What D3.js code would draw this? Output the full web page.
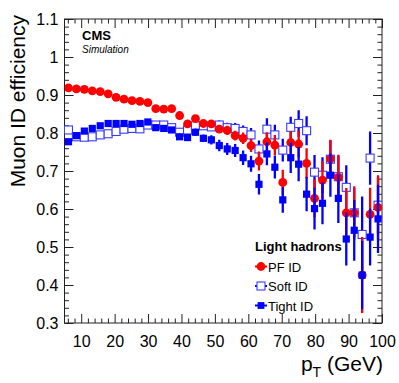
<!DOCTYPE html>
<html>
<head>
<meta charset="utf-8">
<script src="https://cdn.jsdelivr.net/npm/d3@7"></script>
<style>
  body { margin: 0; background: white; }
  text { font-family: "Liberation Sans", Arial, Helvetica, sans-serif; }
</style>
</head>
<body>
<div id="chart"></div>
<script>
// bin centres (GeV), 40 bins between 5 and 100
const ptBins = [6.19, 8.56, 10.94, 13.31, 15.69, 18.06, 20.44, 22.81, 25.19, 27.56,
    29.94, 32.31, 34.69, 37.06, 39.44, 41.81, 44.19, 46.56, 48.94, 51.31,
    53.69, 56.06, 58.44, 60.81, 63.19, 65.56, 67.94, 70.31, 72.69, 75.06,
    77.44, 79.81, 82.19, 84.56, 86.94, 89.31, 91.69, 94.06, 96.44, 98.81];

const pfEff = [0.919, 0.916, 0.915, 0.911, 0.909, 0.903, 0.894, 0.889, 0.885, 0.883,
    0.880, 0.864, 0.863, 0.864, 0.846, 0.824, 0.838, 0.825, 0.824, 0.810,
    0.807, 0.793, 0.786, 0.767, 0.726, 0.777, 0.768, 0.670, 0.775, 0.771,
    0.720, 0.628, 0.676, 0.732, 0.683, 0.590, 0.590, 0.426, 0.586, 0.604];
const pfErr = [0.003, 0.003, 0.003, 0.003, 0.003, 0.003, 0.003, 0.003, 0.003, 0.003,
    0.003, 0.004, 0.004, 0.004, 0.006, 0.006, 0.007, 0.008, 0.009, 0.010,
    0.012, 0.013, 0.015, 0.017, 0.025, 0.025, 0.027, 0.033, 0.030, 0.035,
    0.040, 0.050, 0.050, 0.050, 0.060, 0.065, 0.070, 0.100, 0.070, 0.085];

const softEff = [0.808, 0.790, 0.789, 0.790, 0.795, 0.798, 0.804, 0.810, 0.812, 0.811,
    0.821, 0.821, 0.821, 0.814, 0.802, 0.808, 0.819, 0.819, 0.816, 0.821,
    0.814, 0.812, 0.804, 0.795, 0.758, 0.810, 0.795, 0.755, 0.815, 0.825,
    0.806, 0.697, 0.689, 0.731, 0.685, 0.657, 0.590, 0.533, 0.734, 0.610];
const softErr = [0.004, 0.004, 0.004, 0.004, 0.004, 0.004, 0.004, 0.004, 0.004, 0.004,
    0.004, 0.005, 0.005, 0.006, 0.007, 0.008, 0.009, 0.010, 0.011, 0.012,
    0.013, 0.014, 0.016, 0.018, 0.022, 0.029, 0.027, 0.030, 0.028, 0.035,
    0.038, 0.045, 0.047, 0.050, 0.055, 0.058, 0.065, 0.100, 0.070, 0.075];

const tightEff = [0.777, 0.793, 0.805, 0.812, 0.819, 0.825, 0.825, 0.825, 0.823, 0.825,
    0.829, 0.814, 0.812, 0.808, 0.790, 0.788, 0.802, 0.786, 0.782, 0.767,
    0.758, 0.754, 0.735, 0.719, 0.665, 0.745, 0.710, 0.624, 0.735, 0.718,
    0.639, 0.601, 0.615, 0.689, 0.628, 0.521, 0.544, 0.426, 0.526, 0.574];
const tightErr = [0.004, 0.004, 0.004, 0.004, 0.004, 0.004, 0.004, 0.004, 0.004, 0.004,
    0.004, 0.005, 0.005, 0.006, 0.008, 0.008, 0.010, 0.010, 0.012, 0.015,
    0.016, 0.017, 0.019, 0.021, 0.027, 0.030, 0.030, 0.034, 0.040, 0.045,
    0.045, 0.055, 0.055, 0.057, 0.065, 0.070, 0.080, 0.090, 0.075, 0.090];

const xTicks = [10, 20, 30, 40, 50, 60, 70, 80, 90, 100];
const xMinorTicks = d3.range(6, 100, 2).filter(v => v % 10 !== 0);
const yTicks = [0.3, 0.4, 0.5, 0.6, 0.7, 0.8, 0.9, 1, 1.1];
const yMinorTicks = d3.range(0.32, 1.1, 0.02).filter(v => Math.abs(v * 10 - Math.round(v * 10)) > 0.01);

const legendLabels = ["PF ID", "Soft ID", "Tight ID"];

const width = 399, height = 383;
const plotLeft = 64.5, plotRight = 382, plotTop = 19, plotBottom = 323;

const svg = d3.select("#chart").append("svg")
    .attr("width", width)
    .attr("height", height);

const x = d3.scaleLinear().domain([5, 100]).range([plotLeft, plotRight]);
const y = d3.scaleLinear().domain([0.3, 1.1]).range([plotBottom, plotTop]);

// frame
svg.append("rect")
    .attr("x", plotLeft).attr("y", plotTop)
    .attr("width", plotRight - plotLeft).attr("height", plotBottom - plotTop)
    .attr("fill", "none").attr("stroke", "#222").attr("stroke-width", 1);

const styleAxis = (g) => {
    g.select(".domain").remove();
    g.selectAll("line").attr("stroke", "#222");
};

// bottom axis with labels
const xAxis = svg.append("g")
    .attr("transform", `translate(0,${plotBottom})`)
    .call(d3.axisBottom(x).tickValues(xTicks).tickSize(-9).tickSizeOuter(0));
styleAxis(xAxis);
xAxis.selectAll("text")
    .style("font-size", "16px").attr("fill", "#000")
    .attr("y", 13).attr("dy", "0.71em");

svg.append("g").attr("transform", `translate(0,${plotBottom})`)
    .call(d3.axisBottom(x).tickValues(xMinorTicks).tickSize(-4.5).tickFormat(""))
    .call(styleAxis);

// top axis
svg.append("g").attr("transform", `translate(0,${plotTop})`)
    .call(d3.axisTop(x).tickValues(xTicks).tickSize(-9).tickFormat(""))
    .call(styleAxis);
svg.append("g").attr("transform", `translate(0,${plotTop})`)
    .call(d3.axisTop(x).tickValues(xMinorTicks).tickSize(-4.5).tickFormat(""))
    .call(styleAxis);

// left axis with labels
const yAxis = svg.append("g")
    .attr("transform", `translate(${plotLeft},0)`)
    .call(d3.axisLeft(y).tickValues(yTicks).tickSize(-9).tickFormat(d => d3.format("")(d)));
styleAxis(yAxis);
yAxis.selectAll("text").style("font-size", "16px").attr("fill", "#000").attr("x", -6);

svg.append("g").attr("transform", `translate(${plotLeft},0)`)
    .call(d3.axisLeft(y).tickValues(yMinorTicks).tickSize(-4.5).tickFormat(""))
    .call(styleAxis);

// right axis
svg.append("g").attr("transform", `translate(${plotRight},0)`)
    .call(d3.axisRight(y).tickValues(yTicks).tickSize(-9).tickFormat(""))
    .call(styleAxis);
svg.append("g").attr("transform", `translate(${plotRight},0)`)
    .call(d3.axisRight(y).tickValues(yMinorTicks).tickSize(-4.5).tickFormat(""))
    .call(styleAxis);

// axis titles
svg.append("text")
    .attr("transform", `translate(25,${plotTop - 4}) rotate(-90)`)
    .attr("text-anchor", "end")
    .style("font-size", "21px")
    .text("Muon ID efficiency");

const xTitle = svg.append("text")
    .attr("x", plotRight + 1)
    .attr("y", 371)
    .attr("text-anchor", "end")
    .style("font-size", "21px");
xTitle.append("tspan").text("p");
xTitle.append("tspan").attr("dy", 6).style("font-size", "14px").text("T");
xTitle.append("tspan").attr("dy", -6).text(" (GeV)");

// CMS label
svg.append("text")
    .attr("x", 82).attr("y", 40)
    .style("font-size", "13px").style("font-weight", "bold")
    .text("CMS");
svg.append("text")
    .attr("x", 82).attr("y", 53)
    .style("font-size", "10px").style("font-style", "italic")
    .text("Simulation");

// data
svg.append("defs").append("clipPath").attr("id", "plotclip")
    .append("rect").attr("x", plotLeft).attr("y", plotTop)
    .attr("width", plotRight - plotLeft).attr("height", plotBottom - plotTop);

const plot = svg.append("g").attr("clip-path", "url(#plotclip)");

const makePoints = (vals, errs) => ptBins.map((pt, i) => ({ pt, v: vals[i], e: errs[i] }));

const drawErrors = (pts, colour, w) => {
    plot.append("g").selectAll("line")
        .data(pts)
        .join("line")
        .attr("x1", d => x(d.pt)).attr("x2", d => x(d.pt))
        .attr("y1", d => y(d.v - d.e)).attr("y2", d => y(d.v + d.e))
        .attr("stroke", colour).attr("stroke-width", w);
};

const softPts = makePoints(softEff, softErr);
const pfPts = makePoints(pfEff, pfErr);
const tightPts = makePoints(tightEff, tightErr);

// soft ID (open squares)
drawErrors(softPts, "#0000ff", 2.3);
plot.append("g").selectAll("rect")
    .data(softPts)
    .join("rect")
    .attr("x", d => x(d.pt) - 4).attr("y", d => y(d.v) - 4)
    .attr("width", 8).attr("height", 8)
    .attr("fill", "white").attr("stroke", "#3b3bff").attr("stroke-width", 1.1);

// PF ID (red circles)
drawErrors(pfPts, "#ff0000", 2.3);
plot.append("g").selectAll("circle")
    .data(pfPts)
    .join("circle")
    .attr("cx", d => x(d.pt)).attr("cy", d => y(d.v))
    .attr("r", 4.4)
    .attr("fill", "#ff0000");

// Tight ID (filled squares)
drawErrors(tightPts, "#0000ff", 2.3);
plot.append("g").selectAll("rect")
    .data(tightPts)
    .join("rect")
    .attr("x", d => x(d.pt) - 3.6).attr("y", d => y(d.v) - 3.6)
    .attr("width", 7.2).attr("height", 7.2)
    .attr("fill", "#0000ff");

// legend
const legend = svg.append("g");
legend.append("text")
    .attr("x", 255).attr("y", 251)
    .style("font-size", "13px").style("font-weight", "bold")
    .text("Light hadrons");

const legendY = [266.5, 286, 305.5];
const mx = 261;
legendLabels.forEach((label, i) => {
    const cy = legendY[i];
    const colour = i === 0 ? "#ff0000" : "#0000ff";
    legend.append("line")
        .attr("x1", mx - 6).attr("x2", mx + 6)
        .attr("y1", cy).attr("y2", cy)
        .attr("stroke", colour).attr("stroke-width", 2);
    if (i === 0) {
        legend.append("circle").attr("cx", mx).attr("cy", cy).attr("r", 4.4).attr("fill", "#ff0000");
    } else if (i === 1) {
        legend.append("rect").attr("x", mx - 4).attr("y", cy - 4).attr("width", 8).attr("height", 8)
            .attr("fill", "white").attr("stroke", "#3b3bff").attr("stroke-width", 1.1);
    } else {
        legend.append("rect").attr("x", mx - 3.4).attr("y", cy - 3.4).attr("width", 6.8).attr("height", 6.8)
            .attr("fill", "#0000ff");
    }
    legend.append("text")
        .attr("x", 268).attr("y", cy + 5)
        .style("font-size", "13px")
        .text(label);
});
</script>
</body>
</html>
